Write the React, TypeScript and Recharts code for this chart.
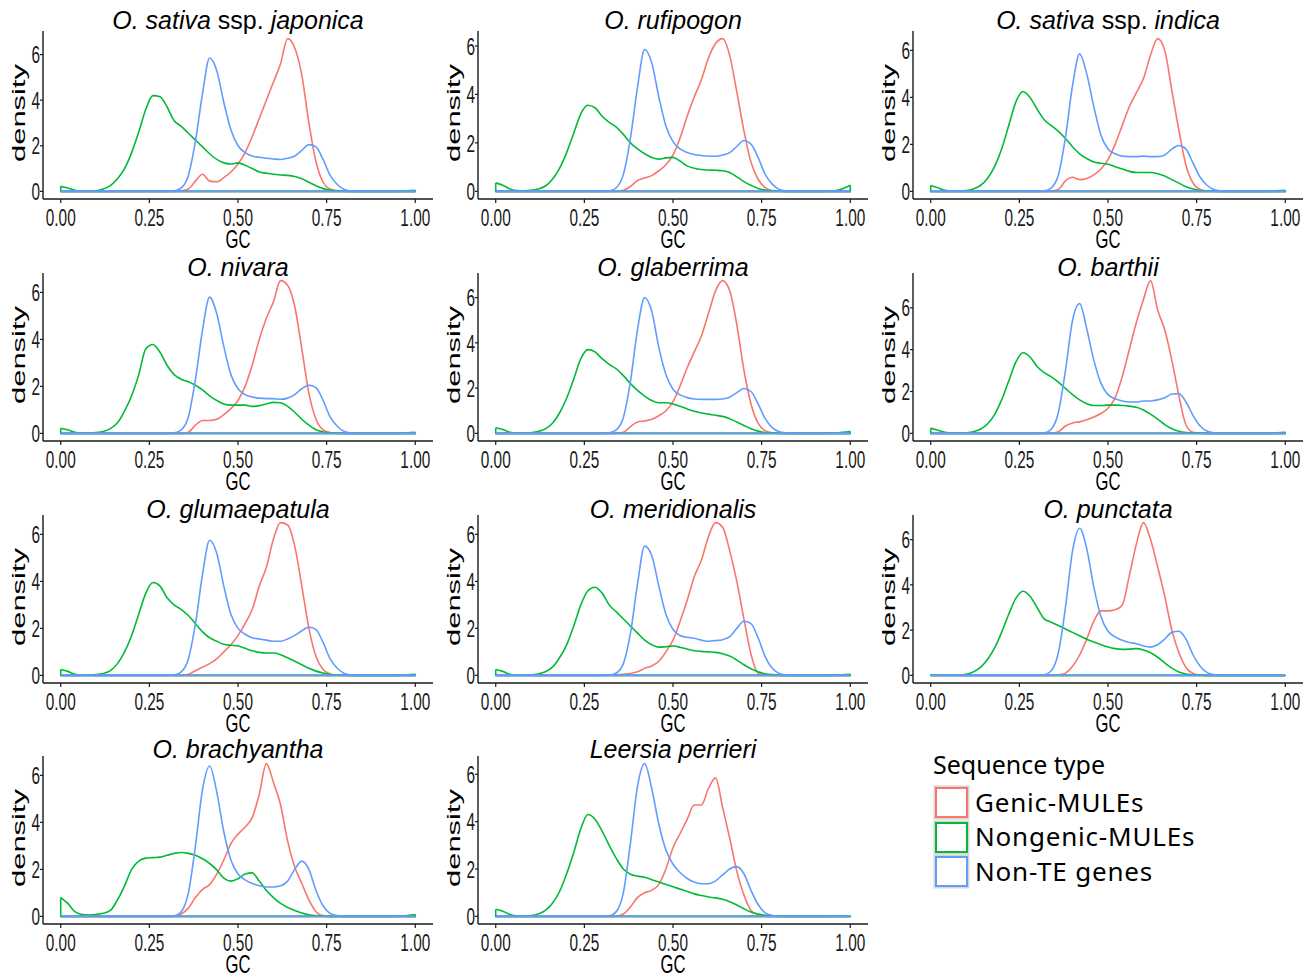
import React from 'react';
import { LineChart, Line, XAxis, YAxis } from 'recharts';

// GC grid the densities were read at
const GC = [
  0, 0.02, 0.04, 0.06, 0.08, 0.1, 0.12, 0.14, 0.16, 0.18,
  0.2, 0.22, 0.24, 0.26, 0.28, 0.3, 0.32, 0.34, 0.36, 0.38,
  0.4, 0.42, 0.44, 0.46, 0.48, 0.5, 0.52, 0.54, 0.56, 0.58,
  0.6, 0.62, 0.64, 0.66, 0.68, 0.7, 0.72, 0.74, 0.76, 0.78,
  0.8, 0.82, 0.84, 0.88, 0.92, 0.96, 1,
];

const SERIES_NAMES = ['Genic-MULEs', 'Nongenic-MULEs', 'Non-TE genes'];
const SERIES_COLORS = ['#F8766D', '#00BA38', '#619CFF'];
const X_TICKS = [0, 0.25, 0.5, 0.75, 1];
const Y_TICKS = [0, 2, 4, 6];

// O. sativa ssp. japonica
const japonicaGenic = [
  0, 0, 0, 0, 0, 0, 0, 0, 0, 0,
  0, 0, 0, 0, 0, 0, 0, 0.02, 0.1, 0.45,
  0.75, 0.45, 0.42, 0.6, 0.85, 1.2, 1.7, 2.4, 3.2, 4.0,
  4.8, 5.6, 6.7, 6.3, 5.1, 3.0, 1.3, 0.4, 0.1, 0.02,
  0, 0, 0, 0, 0, 0, 0,
];
const japonicaNongenic = [
  0.22, 0.15, 0.05, 0.01, 0.01, 0.03, 0.1, 0.25, 0.55, 1.0,
  1.7, 2.6, 3.6, 4.2, 4.15, 3.7, 3.1, 2.85, 2.55, 2.25,
  1.95, 1.65, 1.4, 1.25, 1.2, 1.25, 1.15, 1.0, 0.85, 0.8,
  0.75, 0.72, 0.7, 0.65, 0.55, 0.4, 0.25, 0.12, 0.05, 0.02,
  0.01, 0, 0, 0, 0, 0.01, 0.05,
];
const japonicaNonTE = [
  0, 0, 0, 0, 0, 0, 0, 0, 0, 0,
  0, 0, 0, 0, 0, 0, 0.02, 0.15, 0.7, 2.2,
  4.3, 5.85, 5.3, 3.9, 2.7, 2.0, 1.7, 1.55, 1.5, 1.45,
  1.42, 1.4, 1.45, 1.55, 1.8, 2.05, 1.95, 1.4, 0.7, 0.3,
  0.08, 0.02, 0, 0, 0, 0, 0,
];

// O. rufipogon
const rufipogonGenic = [
  0, 0, 0, 0, 0, 0, 0, 0, 0, 0,
  0, 0, 0, 0, 0, 0, 0, 0.01, 0.05, 0.2,
  0.45, 0.55, 0.65, 0.85, 1.1, 1.5, 2.2, 3.1, 3.9, 4.6,
  5.5, 6.1, 6.3, 5.6, 4.1, 2.5, 1.2, 0.5, 0.15, 0.03,
  0.01, 0, 0, 0, 0, 0, 0,
];
const rufipogonNongenic = [
  0.35, 0.25, 0.1, 0.03, 0.02, 0.04, 0.1, 0.22, 0.5, 0.95,
  1.6, 2.4, 3.2, 3.55, 3.45, 3.1, 2.85, 2.65, 2.35, 2.0,
  1.75, 1.55, 1.4, 1.33, 1.38, 1.4, 1.25, 1.05, 0.95, 0.9,
  0.88, 0.87, 0.85, 0.78, 0.6, 0.4, 0.25, 0.12, 0.05, 0.02,
  0.01, 0, 0, 0, 0, 0.03, 0.25,
];
const rufipogonNonTE = [
  0, 0, 0, 0, 0, 0, 0, 0, 0, 0,
  0, 0, 0, 0, 0, 0, 0.02, 0.15, 0.7, 2.2,
  4.3, 5.85, 5.3, 3.9, 2.7, 2.05, 1.75, 1.6, 1.52, 1.48,
  1.45, 1.45, 1.5, 1.6, 1.85, 2.1, 1.95, 1.4, 0.7, 0.3,
  0.08, 0.02, 0, 0, 0, 0, 0,
];

// O. sativa ssp. indica
const indicaGenic = [
  0, 0, 0, 0, 0, 0, 0, 0, 0, 0,
  0, 0, 0, 0, 0, 0, 0, 0.01, 0.08, 0.45,
  0.6, 0.5, 0.55, 0.7, 0.95, 1.35, 2.0, 2.8, 3.6, 4.2,
  4.8, 5.8, 6.5, 6.0, 4.3, 2.6, 1.1, 0.35, 0.08, 0.02,
  0, 0, 0, 0, 0, 0, 0,
];
const indicaNongenic = [
  0.25, 0.15, 0.05, 0.01, 0.01, 0.03, 0.1, 0.25, 0.55, 1.05,
  1.8, 2.8, 3.8, 4.25, 4.0, 3.5, 3.05, 2.8, 2.55, 2.25,
  1.9, 1.6, 1.4, 1.25, 1.2, 1.15, 1.05, 0.95, 0.85, 0.8,
  0.8, 0.8, 0.75, 0.65, 0.5, 0.35, 0.2, 0.1, 0.04, 0.02,
  0.01, 0, 0, 0, 0, 0.01, 0.05,
];
const indicaNonTE = [
  0, 0, 0, 0, 0, 0, 0, 0, 0, 0,
  0, 0, 0, 0, 0, 0, 0.02, 0.15, 0.7, 2.3,
  4.5, 5.85, 5.0, 3.6, 2.4, 1.8, 1.6, 1.5, 1.48, 1.48,
  1.5, 1.48, 1.48, 1.55, 1.8, 1.95, 1.8, 1.2, 0.6, 0.25,
  0.07, 0.02, 0, 0, 0, 0, 0,
];

// O. nivara
const nivaraGenic = [
  0, 0, 0, 0, 0, 0, 0, 0, 0, 0,
  0, 0, 0, 0, 0, 0, 0, 0, 0.05, 0.35,
  0.55, 0.55, 0.6, 0.8, 1.05, 1.4, 2.0, 2.9, 4.0, 4.9,
  5.6, 6.5, 6.3, 5.4, 3.6, 1.7, 0.6, 0.15, 0.03, 0,
  0, 0, 0, 0, 0, 0, 0,
];
const nivaraNongenic = [
  0.22, 0.15, 0.05, 0.01, 0.01, 0.03, 0.08, 0.2, 0.45, 0.95,
  1.6, 2.5, 3.6, 3.78, 3.45, 2.9, 2.5, 2.3, 2.2, 2.05,
  1.85, 1.6, 1.4, 1.25, 1.2, 1.2, 1.2, 1.15, 1.18, 1.25,
  1.32, 1.3, 1.15, 0.9, 0.6, 0.35, 0.15, 0.06, 0.02, 0.01,
  0, 0, 0, 0, 0, 0.01, 0.05,
];
const nivaraNonTE = [
  0, 0, 0, 0, 0, 0, 0, 0, 0, 0,
  0, 0, 0, 0, 0, 0, 0.02, 0.15, 0.7, 2.3,
  4.4, 5.8, 5.1, 3.7, 2.5, 1.9, 1.65, 1.55, 1.5, 1.48,
  1.48, 1.45, 1.5, 1.65, 1.9, 2.05, 1.95, 1.4, 0.7, 0.3,
  0.08, 0.02, 0, 0, 0, 0, 0,
];

// O. glaberrima
const glaberrimaGenic = [
  0, 0, 0, 0, 0, 0, 0, 0, 0, 0,
  0, 0, 0, 0, 0, 0, 0, 0.01, 0.05, 0.3,
  0.5, 0.55, 0.62, 0.78, 1.0, 1.4, 2.1, 2.9, 3.6, 4.3,
  5.3, 6.3, 6.75, 6.3, 4.8, 2.8, 1.3, 0.45, 0.12, 0.03,
  0, 0, 0, 0, 0, 0, 0,
];
const glaberrimaNongenic = [
  0.25, 0.17, 0.05, 0.01, 0.01, 0.03, 0.08, 0.2, 0.45, 0.9,
  1.55, 2.4, 3.3, 3.7, 3.6, 3.3, 3.05, 2.85, 2.55, 2.2,
  1.9, 1.65, 1.45, 1.35, 1.35, 1.3, 1.2, 1.08, 0.98, 0.9,
  0.85, 0.8, 0.75, 0.65, 0.5, 0.35, 0.2, 0.1, 0.04, 0.02,
  0.01, 0, 0, 0, 0, 0.02, 0.08,
];
const glaberrimaNonTE = [
  0, 0, 0, 0, 0, 0, 0, 0, 0, 0,
  0, 0, 0, 0, 0, 0, 0.02, 0.15, 0.7, 2.3,
  4.6, 6.0, 5.4, 3.8, 2.6, 1.95, 1.7, 1.58, 1.52, 1.5,
  1.5, 1.5, 1.52, 1.6, 1.8, 1.98, 1.85, 1.3, 0.65, 0.25,
  0.07, 0.02, 0, 0, 0, 0, 0,
];

// O. barthii
const barthiiGenic = [
  0, 0, 0, 0, 0, 0, 0, 0, 0, 0,
  0, 0, 0, 0, 0, 0, 0, 0.01, 0.08, 0.35,
  0.5, 0.55, 0.65, 0.78, 0.95, 1.2, 1.7, 2.7, 4.0, 5.3,
  6.4, 7.3, 5.9, 4.95, 3.5, 1.8, 0.4, 0.05, 0.01, 0,
  0, 0, 0, 0, 0, 0, 0,
];
const barthiiNongenic = [
  0.25, 0.15, 0.05, 0.01, 0.01, 0.03, 0.08, 0.2, 0.45, 0.9,
  1.6, 2.5, 3.4, 3.85, 3.65, 3.2, 2.9, 2.7, 2.45, 2.15,
  1.85, 1.6, 1.42, 1.33, 1.33, 1.35, 1.35, 1.33, 1.3, 1.25,
  1.12, 0.92, 0.68, 0.42, 0.22, 0.1, 0.04, 0.02, 0.01, 0,
  0, 0, 0, 0, 0, 0.01, 0.05,
];
const barthiiNonTE = [
  0, 0, 0, 0, 0, 0, 0, 0, 0, 0,
  0, 0, 0, 0, 0, 0, 0.02, 0.2, 1.0, 3.0,
  5.4, 6.2, 5.0, 3.5, 2.4, 1.85, 1.65, 1.55, 1.5, 1.5,
  1.55, 1.55, 1.6, 1.7, 1.88, 1.9, 1.5, 0.85, 0.35, 0.1,
  0.03, 0, 0, 0, 0, 0, 0,
];

// O. glumaepatula
const glumaepatulaGenic = [
  0, 0, 0, 0, 0, 0, 0, 0, 0, 0,
  0, 0, 0, 0, 0, 0, 0, 0, 0.05, 0.2,
  0.35, 0.5, 0.7, 1.0, 1.3, 1.7, 2.2, 2.8, 3.8, 4.6,
  5.8, 6.5, 6.4, 5.5, 3.8, 2.0, 0.8, 0.25, 0.06, 0.01,
  0, 0, 0, 0, 0, 0, 0,
];
const glumaepatulaNongenic = [
  0.25, 0.17, 0.05, 0.01, 0.01, 0.03, 0.08, 0.2, 0.5, 1.0,
  1.7, 2.6, 3.5, 3.95, 3.8, 3.3, 3.0, 2.8, 2.55, 2.2,
  1.85, 1.6, 1.45, 1.32, 1.28, 1.25, 1.15, 1.05, 0.98, 0.95,
  0.95, 0.88, 0.75, 0.6, 0.45, 0.3, 0.18, 0.1, 0.04, 0.02,
  0.01, 0, 0, 0, 0, 0.01, 0.05,
];
const glumaepatulaNonTE = [
  0, 0, 0, 0, 0, 0, 0, 0, 0, 0,
  0, 0, 0, 0, 0, 0, 0.02, 0.15, 0.7, 2.2,
  4.3, 5.75, 5.2, 3.8, 2.6, 2.0, 1.75, 1.6, 1.55, 1.5,
  1.45, 1.45, 1.55, 1.7, 1.9, 2.05, 1.95, 1.4, 0.7, 0.3,
  0.08, 0.02, 0, 0, 0, 0, 0,
];

// O. meridionalis
const meridionalisGenic = [
  0, 0, 0, 0, 0, 0, 0, 0, 0, 0,
  0, 0, 0, 0, 0, 0.01, 0.02, 0.03, 0.05, 0.08,
  0.15, 0.3, 0.4, 0.6, 1.0, 1.5, 2.3, 3.2, 4.2, 4.9,
  5.9, 6.5, 6.3, 5.3, 4.0, 2.4, 0.9, 0.1, 0.02, 0,
  0, 0, 0, 0, 0, 0, 0,
];
const meridionalisNongenic = [
  0.25, 0.17, 0.05, 0.01, 0.01, 0.02, 0.06, 0.15, 0.35, 0.75,
  1.3, 2.1, 3.0, 3.6, 3.75, 3.5, 3.0, 2.7, 2.4, 2.1,
  1.8, 1.5, 1.3, 1.2, 1.22, 1.25, 1.2, 1.12, 1.05, 1.02,
  1.0, 0.98, 0.92, 0.82, 0.65, 0.45, 0.28, 0.15, 0.07, 0.03,
  0.01, 0, 0, 0, 0, 0.01, 0.05,
];
const meridionalisNonTE = [
  0, 0, 0, 0, 0, 0, 0, 0, 0, 0,
  0, 0, 0, 0, 0, 0, 0.01, 0.1, 0.5, 1.8,
  3.9, 5.5, 5.1, 3.8, 2.6, 1.95, 1.7, 1.62, 1.58, 1.5,
  1.45, 1.48, 1.52, 1.65, 2.0, 2.3, 2.2, 1.6, 0.8, 0.3,
  0.08, 0.02, 0, 0, 0, 0, 0,
];

// O. punctata
const punctataGenic = [
  0, 0, 0, 0, 0, 0, 0, 0, 0, 0,
  0, 0, 0, 0, 0, 0, 0, 0, 0.02, 0.1,
  0.4, 0.9, 1.6, 2.4, 2.85, 2.85, 2.9, 3.1, 4.4, 5.8,
  6.75, 6.0, 4.8, 3.5, 2.0, 1.0, 0.35, 0.08, 0.01, 0,
  0, 0, 0, 0, 0, 0, 0,
];
const punctataNongenic = [
  0.03, 0.01, 0.01, 0.01, 0.01, 0.05, 0.15, 0.35, 0.7, 1.2,
  1.9, 2.7, 3.4, 3.72, 3.5, 3.0, 2.5, 2.35, 2.2, 2.05,
  1.9, 1.75, 1.6, 1.47, 1.35, 1.25, 1.18, 1.15, 1.16, 1.18,
  1.12, 1.0, 0.8, 0.55, 0.32, 0.15, 0.06, 0.02, 0.01, 0,
  0, 0, 0, 0, 0, 0, 0,
];
const punctataNonTE = [
  0, 0, 0, 0, 0, 0, 0, 0, 0, 0,
  0, 0, 0, 0, 0, 0, 0.02, 0.2, 1.0, 3.0,
  5.5, 6.5, 5.6, 3.9, 2.6, 1.95, 1.7, 1.55, 1.45, 1.4,
  1.3, 1.25, 1.35, 1.6, 1.9, 1.95, 1.6, 0.9, 0.4, 0.12,
  0.03, 0, 0, 0, 0, 0, 0,
];

// O. brachyantha
const brachyanthaGenic = [
  0, 0, 0, 0, 0, 0, 0, 0, 0, 0,
  0, 0, 0, 0, 0, 0, 0.01, 0.1, 0.35, 0.8,
  1.15, 1.35, 1.8, 2.4, 3.1, 3.5, 3.8, 4.2, 5.2, 6.5,
  5.7, 4.75, 3.2, 2.1, 1.4, 0.7, 0.2, 0.03, 0, 0,
  0, 0, 0, 0, 0, 0, 0,
];
const brachyanthaNongenic = [
  0.8, 0.55, 0.2, 0.08, 0.06, 0.08, 0.13, 0.25, 0.7, 1.3,
  2.0, 2.35, 2.48, 2.5, 2.52, 2.6, 2.68, 2.72, 2.68, 2.6,
  2.45, 2.25, 1.98, 1.63, 1.5, 1.6, 1.8, 1.85, 1.5, 1.1,
  0.8, 0.55, 0.38, 0.25, 0.14, 0.07, 0.03, 0.01, 0, 0,
  0, 0, 0, 0, 0, 0.02, 0.08,
];
const brachyanthaNonTE = [
  0, 0, 0, 0, 0, 0, 0, 0, 0, 0,
  0, 0, 0, 0, 0, 0, 0.02, 0.2, 1.0, 3.0,
  5.4, 6.4, 5.3, 3.6, 2.4, 1.8, 1.55, 1.4, 1.3, 1.25,
  1.25, 1.3, 1.5, 2.0, 2.35, 2.0, 1.1, 0.45, 0.12, 0.03,
  0, 0, 0, 0, 0, 0, 0,
];

// Leersia perrieri
const leersiaGenic = [
  0, 0, 0, 0, 0, 0, 0, 0, 0, 0,
  0, 0, 0, 0, 0, 0, 0, 0.01, 0.1, 0.4,
  0.8, 1.0, 1.1, 1.35, 2.0, 2.9, 3.5, 4.1, 4.7, 4.7,
  5.4, 5.85, 4.6, 3.3, 1.9, 0.9, 0.25, 0.07, 0.01, 0,
  0, 0, 0, 0, 0, 0, 0,
];
const leersiaNongenic = [
  0.3, 0.22, 0.08, 0.02, 0.01, 0.03, 0.1, 0.25, 0.55, 1.05,
  1.8, 2.7, 3.7, 4.3, 4.1, 3.6, 3.0, 2.45, 2.0, 1.78,
  1.7, 1.65, 1.55, 1.45, 1.35, 1.25, 1.15, 1.05, 0.95, 0.88,
  0.82, 0.78, 0.72, 0.62, 0.48, 0.32, 0.18, 0.1, 0.05, 0.02,
  0.01, 0, 0, 0, 0, 0.01, 0.02,
];
const leersiaNonTE = [
  0, 0, 0, 0, 0, 0, 0, 0, 0, 0,
  0, 0, 0, 0, 0, 0, 0.02, 0.2, 1.0, 3.1,
  5.5, 6.45, 5.4, 3.9, 2.8, 2.2, 1.85, 1.6, 1.45, 1.38,
  1.38, 1.5, 1.75, 2.0, 2.1, 1.8, 1.1, 0.5, 0.15, 0.04,
  0, 0, 0, 0, 0, 0, 0,
];

type Seg = { t: string; i: boolean };
const sp = (name: string): Seg[] => [{ t: name, i: true }];

const PANELS: { title: Seg[]; series: number[][] }[] = [
  { title: [{ t: 'O. sativa', i: true }, { t: ' ssp. ', i: false }, { t: 'japonica', i: true }], series: [japonicaGenic, japonicaNongenic, japonicaNonTE] },
  { title: sp('O. rufipogon'), series: [rufipogonGenic, rufipogonNongenic, rufipogonNonTE] },
  { title: [{ t: 'O. sativa', i: true }, { t: ' ssp. ', i: false }, { t: 'indica', i: true }], series: [indicaGenic, indicaNongenic, indicaNonTE] },
  { title: sp('O. nivara'), series: [nivaraGenic, nivaraNongenic, nivaraNonTE] },
  { title: sp('O. glaberrima'), series: [glaberrimaGenic, glaberrimaNongenic, glaberrimaNonTE] },
  { title: sp('O. barthii'), series: [barthiiGenic, barthiiNongenic, barthiiNonTE] },
  { title: sp('O. glumaepatula'), series: [glumaepatulaGenic, glumaepatulaNongenic, glumaepatulaNonTE] },
  { title: sp('O. meridionalis'), series: [meridionalisGenic, meridionalisNongenic, meridionalisNonTE] },
  { title: sp('O. punctata'), series: [punctataGenic, punctataNongenic, punctataNonTE] },
  { title: sp('O. brachyantha'), series: [brachyanthaGenic, brachyanthaNongenic, brachyanthaNonTE] },
  { title: sp('Leersia perrieri'), series: [leersiaGenic, leersiaNongenic, leersiaNonTE] },
];

// layout
const COL_LEFT = [0, 435, 870];
const PLOT_TOP = [31, 273, 515, 756];
const TITLE_MID = [20, 267, 509, 749];
const CHART_W = 440;
const MARGIN_TOP = 31;
const PLOT_H = 168;
const X_AXIS_H = 52;
const Y_AXIS_W = 43;
const CHART_H = MARGIN_TOP + PLOT_H + X_AXIS_H;
const AXIS = '#1a1a1a';
const TICK_FONT = '"Liberation Sans", Arial, sans-serif';
const SQUEEZE = 0.64;

const XTick = (p: any) => (
  <g transform={`translate(${p.x},${p.y}) scale(${SQUEEZE},1)`}>
    <text textAnchor="middle" dy="0.71em" fontSize={24} fontFamily={TICK_FONT} fill={AXIS}>
      {Number(p.payload.value).toFixed(2)}
    </text>
  </g>
);

const YTick = (p: any) => (
  <g transform={`translate(${p.x},${p.y}) scale(${SQUEEZE},1)`}>
    <text textAnchor="end" dy="0.36em" fontSize={24} fontFamily={TICK_FONT} fill={AXIS}>
      {p.payload.value}
    </text>
  </g>
);

const Panel = ({ idx }: { idx: number }) => {
  const panel = PANELS[idx];
  const col = idx % 3;
  const row = Math.floor(idx / 3);
  const left = COL_LEFT[col];
  const top = PLOT_TOP[row] - MARGIN_TOP;
  const max = Math.max(...panel.series.map((s) => Math.max(...s)));
  const yDomain: [number, number] = [-0.05 * max, 1.05 * max];
  const plotW = CHART_W - 7 - Y_AXIS_W;

  return (
    <>
      <div
        style={{
          position: 'absolute',
          left: left + Y_AXIS_W - 20,
          width: plotW + 40,
          top: TITLE_MID[row] - 13,
          height: 26,
          lineHeight: '26px',
          textAlign: 'center',
          fontFamily: '"Liberation Sans", Arial, sans-serif',
          fontSize: 25,
          color: '#000',
          whiteSpace: 'pre',
        }}
      >
        {panel.title.map((s, k) => (
          <span key={k} style={{ fontStyle: s.i ? 'italic' : 'normal' }}>{s.t}</span>
        ))}
      </div>
      <div style={{ position: 'absolute', left, top, width: CHART_W, height: CHART_H }}>
        <LineChart width={CHART_W} height={CHART_H} margin={{ top: MARGIN_TOP, right: 7, bottom: 0, left: 0 }}>
          <XAxis
            type="number"
            dataKey="x"
            domain={[-0.05, 1.05]}
            ticks={X_TICKS}
            allowDataOverflow
            height={X_AXIS_H}
            axisLine={{ stroke: AXIS, strokeWidth: 1.4 }}
            tickLine={{ stroke: AXIS, strokeWidth: 1.2 }}
            tickSize={4}
            tickMargin={6}
            tick={(p: any) => <XTick {...p} />}
          />
          <YAxis
            type="number"
            domain={yDomain}
            ticks={Y_TICKS.filter((t) => t <= yDomain[1])}
            allowDataOverflow
            width={Y_AXIS_W}
            axisLine={{ stroke: AXIS, strokeWidth: 1.4 }}
            tickLine={{ stroke: AXIS, strokeWidth: 1.2 }}
            tickSize={3}
            tickMargin={0}
            tick={(p: any) => <YTick {...p} />}
          />
          {panel.series.map((vals, s) => [
            <Line
              key={`curve-${s}`}
              data={GC.map((x, i) => ({ x, d: vals[i] }))}
              dataKey="d"
              type="monotone"
              stroke={SERIES_COLORS[s]}
              strokeWidth={1.6}
              dot={false}
              activeDot={false}
              isAnimationActive={false}
              name={SERIES_NAMES[s]}
            />,
            <Line
              key={`outline-${s}`}
              data={[
                { x: GC[0], d: vals[0] },
                { x: GC[0], d: 0 },
                { x: GC[GC.length - 1], d: 0 },
                { x: GC[GC.length - 1], d: vals[vals.length - 1] },
              ]}
              dataKey="d"
              type="linear"
              stroke={SERIES_COLORS[s]}
              strokeWidth={1.6}
              dot={false}
              activeDot={false}
              isAnimationActive={false}
              legendType="none"
            />,
          ])}
        </LineChart>
        <svg
          width={CHART_W}
          height={CHART_H}
          style={{ position: 'absolute', left: 0, top: 0, pointerEvents: 'none', overflow: 'visible' }}
        >
          <g transform={`translate(20,${MARGIN_TOP + 82}) scale(0.62,1) rotate(-90)`}>
            <text textAnchor="middle" dy="0.27em" fontSize={31} fontFamily={TICK_FONT} fill="#000">
              density
            </text>
          </g>
          <g transform={`translate(${Y_AXIS_W + plotW / 2},${MARGIN_TOP + PLOT_H + 49}) scale(${SQUEEZE},1)`}>
            <text textAnchor="middle" fontSize={26} fontFamily={TICK_FONT} fill="#000">
              GC
            </text>
          </g>
        </svg>
      </div>
    </>
  );
};

const Legend = () => (
  <>
    <div
      style={{
        position: 'absolute',
        left: 933,
        top: 752,
        fontFamily: '"Noto Sans", sans-serif',
        fontSize: 25,
        lineHeight: '25px',
        color: '#000',
        whiteSpace: 'nowrap',
      }}
    >
      Sequence type
    </div>
    {SERIES_NAMES.map((name, s) => (
      <React.Fragment key={name}>
        <div
          style={{
            position: 'absolute',
            left: 935,
            top: 787 + s * 34.5,
            width: 29,
            height: 27,
            border: `2px solid ${SERIES_COLORS[s]}`,
            boxShadow: '0 0 0 1.5px #d6d6d6',
            background: '#fff',
          }}
        />
        <div
          style={{
            position: 'absolute',
            left: 975,
            top: 788.6 + s * 34.5,
            fontFamily: '"Noto Sans", sans-serif',
            fontSize: 26,
            lineHeight: '26px',
            letterSpacing: 0.8,
            color: '#000',
            whiteSpace: 'nowrap',
          }}
        >
          {name}
        </div>
      </React.Fragment>
    ))}
  </>
);

export default function App() {
  return (
    <div
      style={{
        position: 'absolute',
        left: 0,
        top: 0,
        width: 1314,
        height: 979,
        background: '#fff',
        overflow: 'hidden',
      }}
    >
      {PANELS.map((_, i) => (
        <Panel key={i} idx={i} />
      ))}
      <Legend />
    </div>
  );
}
